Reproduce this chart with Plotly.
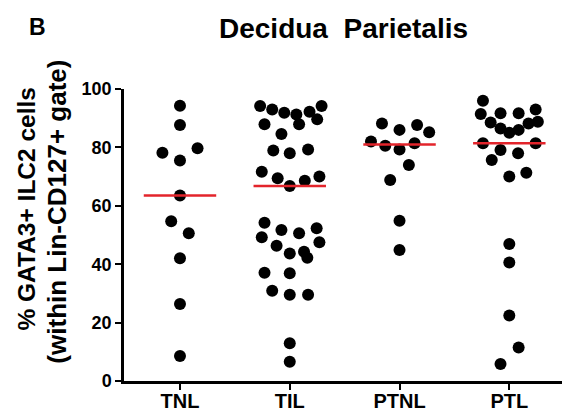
import numpy as np
import plotly.graph_objects as go

categories = ["TNL", "TIL", "PTNL", "PTL"]

tnl_values = [94.3, 87.7, 78.2, 79.7, 75.5, 63.5, 54.7, 50.6, 42.0, 26.4, 8.6]
tnl_offsets = [0, 0, -0.16, 0.16, 0, 0, -0.08, 0.08, 0, 0, 0]

til_values = [94.2, 93.0, 91.9, 91.3, 92.2, 94.2, 87.9, 87.9, 89.6, 84.6,
              78.9, 78.0, 79.3, 71.7, 69.4, 66.8, 68.6, 70.0, 54.2, 51.7,
              50.6, 52.3, 49.2, 46.3, 43.7, 44.3, 42.2, 47.5, 37.1, 36.9,
              30.9, 29.5, 29.5, 12.9, 6.6]
til_offsets = [-0.27, -0.16, -0.05, 0.06, 0.18, 0.29, -0.23, 0.085, 0.25, -0.076,
               -0.15, 0, 0.167, -0.255, -0.11, 0, 0.137, 0.27, -0.23, -0.076,
               0.085, 0.245, -0.255, -0.12, 0, 0.13, 0.16, 0.27, -0.23, 0,
               -0.16, 0, 0.167, 0, 0]

ptnl_values = [88.2, 86.0, 87.7, 85.2, 82.0, 80.6, 79.3, 81.4, 74.0, 68.8, 54.9, 44.9]
ptnl_offsets = [-0.16, 0, 0.16, 0.27, -0.26, -0.13, 0, 0.137, 0.085, -0.085, 0, 0]

ptl_values = [96.0, 91.4, 91.7, 91.7, 93.0, 88.5, 86.5, 85.0, 86.0, 88.2, 88.8,
              81.4, 81.4, 79.1, 78.0, 75.7, 70.0, 71.3, 46.9, 40.6, 22.4, 11.5, 5.8]
ptl_offsets = [-0.24, -0.26, -0.08, 0.085, 0.24, -0.17, -0.08, 0, 0.085, 0.175, 0.26,
               -0.24, 0.24, -0.08, 0.08, -0.16, 0, 0.155, 0, 0, 0, 0.085, -0.08]

y_ticks = [0, 20, 40, 60, 80, 100]

groups = [
    (tnl_values, tnl_offsets),
    (til_values, til_offsets),
    (ptnl_values, ptnl_offsets),
    (ptl_values, ptl_offsets),
]

FONT = "Liberation Sans, Arial, sans-serif"

fig = go.Figure()

for i, (vals, offs) in enumerate(groups):
    fig.add_trace(go.Scatter(
        x=[i + o for o in offs], y=vals, mode="markers",
        marker=dict(size=12, color="black", line=dict(width=0)),
        cliponaxis=False, showlegend=False, hoverinfo="y",
    ))

for i, (vals, offs) in enumerate(groups):
    m = float(np.median(vals))
    fig.add_trace(go.Scatter(
        x=[i - 0.33, i + 0.33], y=[m, m], mode="lines",
        line=dict(color="#e3242b", width=2.5),
        cliponaxis=False, showlegend=False, hoverinfo="skip",
    ))

fig.update_layout(
    width=562, height=418,
    margin=dict(l=124, r=0, t=89, b=37, autoexpand=False),
    paper_bgcolor="white", plot_bgcolor="white",
    font=dict(family=FONT, color="black"),
    xaxis=dict(
        range=[-0.51, 3.48], tickvals=list(range(len(categories))), ticktext=categories,
        showline=True, linecolor="black", linewidth=2.5, ticks="outside",
        ticklen=6, tickwidth=2, tickcolor="black", showgrid=False, zeroline=False,
        tickfont=dict(size=20, family=FONT, weight="bold"), automargin=False,
        ticklabelstandoff=-6,
    ),
    yaxis=dict(
        range=[0, 100], tickvals=y_ticks,
        showline=True, linecolor="black", linewidth=2.5, ticks="outside",
        ticklen=6, tickwidth=2, tickcolor="black", showgrid=False, zeroline=False,
        tickfont=dict(size=18, family=FONT, weight="bold"), automargin=False,
    ),
    annotations=[
        dict(text="Decidua\u00a0\u00a0Parietalis", x=0.50, y=1.2065, xref="paper", yref="paper",
             showarrow=False, xanchor="center", yanchor="middle",
             font=dict(size=28, family=FONT, weight="bold")),
        dict(text="B", x=-0.1986, y=1.212, xref="paper", yref="paper",
             showarrow=False, xanchor="center", yanchor="middle",
             font=dict(size=23, family=FONT, weight="bold")),
        dict(text="% GATA3+ ILC2 cells", x=-0.2235, y=0.591, xref="paper", yref="paper",
             showarrow=False, xanchor="center", yanchor="middle", textangle=-90,
             font=dict(size=24.5, family=FONT, weight="bold")),
        dict(text="(within Lin-CD127+ gate)", x=-0.153, y=0.580, xref="paper", yref="paper",
             showarrow=False, xanchor="center", yanchor="middle", textangle=-90,
             font=dict(size=26, family=FONT, weight="bold")),
    ],
)

fig.write_html(
    "out.html",
    config={"displayModeBar": False},
    post_script="document.body.style.margin='0px';document.body.style.overflow='hidden';",
)
